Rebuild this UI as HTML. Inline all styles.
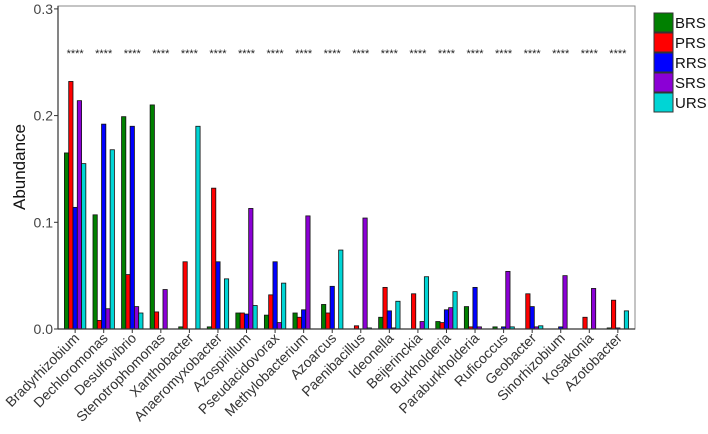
<!DOCTYPE html>
<html><head><meta charset="utf-8"><style>
body{margin:0;background:#fff;}
svg{display:block;font-family:"Liberation Sans",sans-serif;}
</style></head><body>
<svg id="chart" width="708" height="434">
<g id="plot"></g>
</svg>
<script>
const categories=["Bradyrhizobium","Dechloromonas","Desulfovibrio","Stenotrophomonas","Xanthobacter","Anaeromyxobacter","Azospirillum","Pseudacidovorax","Methylobacterium","Azoarcus","Paenibacillus","Ideonella","Beijerinckia","Burkholderia","Paraburkholderia","Ruficoccus","Geobacter","Sinorhizobium","Kosakonia","Azotobacter"];
const seriesNames=["BRS","PRS","RRS","SRS","URS"];
const BRS=[0.165,0.107,0.199,0.210,0.002,0.002,0.015,0.013,0.015,0.023,0,0.011,0,0.007,0.021,0.002,0,0,0,0.001];
const PRS=[0.232,0.008,0.051,0.016,0.063,0.132,0.015,0.032,0.011,0.015,0.003,0.039,0.033,0.006,0.002,0,0.033,0,0.011,0.027];
const RRS=[0.114,0.192,0.190,0,0,0.063,0.014,0.063,0.018,0.040,0,0.017,0,0.018,0.039,0.002,0.021,0.002,0,0.001];
const SRS=[0.214,0.019,0.021,0.037,0,0,0.113,0.006,0.106,0,0.104,0.001,0.007,0.020,0.002,0.054,0.002,0.050,0.038,0];
const URS=[0.155,0.168,0.015,0,0.190,0.047,0.022,0.043,0,0.074,0.001,0.026,0.049,0.035,0,0.002,0.003,0,0,0.017];
const yTicks=[0,0.1,0.2,0.3];
const yTickLabels=["0.0","0.1","0.2","0.3"];
const sigLabels=categories.map(()=> "****");
const colors=["#008000","#ff0000","#0000ff","#8b00d6","#00d5d5"];
const series=[BRS,PRS,RRS,SRS,URS];

const NS="http://www.w3.org/2000/svg";
const L=58,R=635,T=6,B=329;
const step=(R-L)/(categories.length-1+1.2);
const xc=i=>L+step*(0.6+i);
const y=v=>B-v*1067;
const g=document.getElementById('plot');
function el(t,a,p){const e=document.createElementNS(NS,t);for(const k in a)e.setAttribute(k,a[k]);(p||g).appendChild(e);return e;}

const frame=el('rect',{x:L,y:T,width:R-L,height:B-T,fill:'none',stroke:'#888','stroke-width':1});



const gw=step*0.75;
const bw=gw/5;
categories.forEach((c,i)=>{
  series.forEach((s,k)=>{
    const v=s[i];
    const x0=xc(i)-gw/2+k*bw;
    const r=el('rect',{x:x0,y:y(v),width:bw,height:Math.max(0,B-y(v)),fill:colors[k],stroke:'#111','stroke-width':0.8});
    
    
  });
  const st=el('text',{x:xc(i),y:57,'text-anchor':'middle','font-size':11,fill:'#222'});
  st.textContent=sigLabels[i];
  
  
  const tk=el('line',{x1:xc(i),x2:xc(i),y1:B,y2:B+4,stroke:'#333'});
  
  
  const tl=el('text',{x:xc(i)+5,y:B+10,'text-anchor':'end','font-size':14,fill:'#333',transform:`rotate(-45 ${xc(i)+5} ${B+10})`});
  tl.textContent=c;
  
  
});
const ax=el('line',{x1:L,x2:R,y1:B,y2:B,stroke:'#333','stroke-width':1.2});


const ay=el('line',{x1:L,x2:L,y1:T,y2:B,stroke:'#333','stroke-width':1.2});


yTicks.forEach((v,j)=>{
  const t=el('line',{x1:L-4,x2:L,y1:y(v),y2:y(v),stroke:'#333'});
  
  
  const tx=el('text',{x:L-5,y:y(v)+5,'text-anchor':'end','font-size':14,fill:'#444'});
  tx.textContent=yTickLabels[j];
  
  
});
const yt=el('text',{x:0,y:0,'text-anchor':'middle','font-size':17,fill:'#111',transform:'translate(25 167) rotate(-90)'});
yt.textContent="Abundance";


seriesNames.forEach((n,k)=>{
  const r=el('rect',{x:654,y:13+k*20,width:19,height:19,fill:colors[k],stroke:'#333','stroke-width':1});
  
  
  const t=el('text',{x:675,y:28+k*20,'font-size':15,fill:'#111'});
  t.textContent=n;
  
  
});
</script>
</body></html>
